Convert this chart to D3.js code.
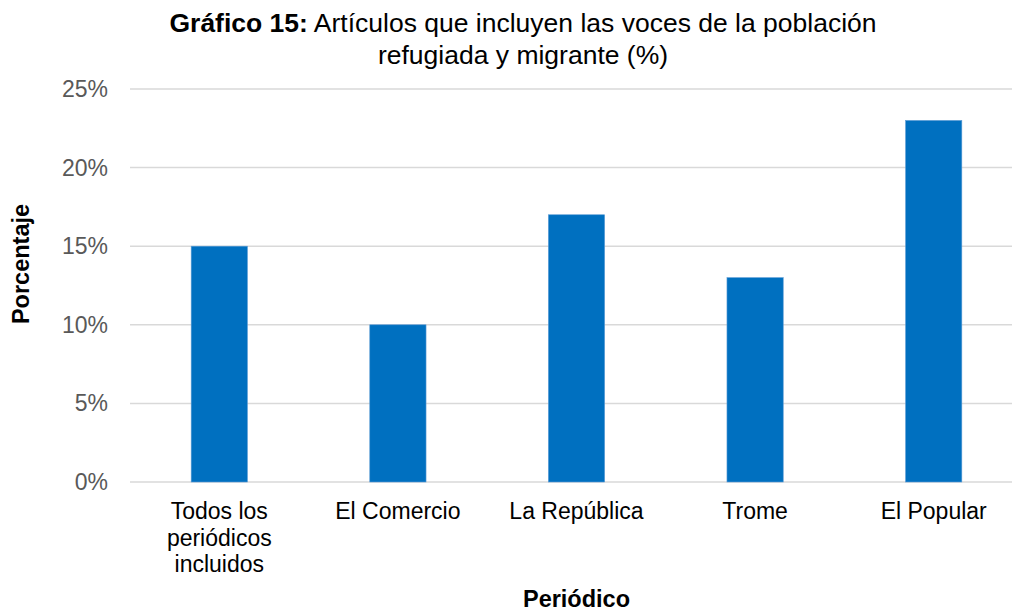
<!DOCTYPE html>
<html>
<head>
<meta charset="utf-8">
<script src="https://cdn.jsdelivr.net/npm/d3@7"></script>
<style>
  body { margin: 0; background: #fff; }
  svg { font-family: "Liberation Sans", Arial, sans-serif; display: block; }
</style>
</head>
<body>
<div id="chart"></div>
<script>
// ---- data -----------------------
var periodicos = [["Todos los", "periódicos", "incluidos"], ["El Comercio"], ["La República"], ["Trome"], ["El Popular"]];
var valores = [15, 10, 17, 13, 23];
var ticks = [0, 5, 10, 15, 20, 25];

var W = 1012, H = 615;
var plotLeft = 130, plotRight = 1023, plotTop = 89, plotBottom = 482;

var svg = d3.select("#chart").append("svg")
    .attr("width", W)
    .attr("height", H);

var keys = periodicos.map(function (d) { return d.join(" "); });

var x = d3.scaleBand()
    .domain(keys)
    .range([plotLeft, plotRight])
    .paddingInner(0.685)
    .paddingOuter(0.3425);

var y = d3.scaleLinear()
    .domain([0, 25])
    .range([plotBottom, plotTop]);

// gridlines
svg.append("g")
    .selectAll("line")
    .data(ticks)
    .enter().append("line")
    .attr("x1", plotLeft)
    .attr("x2", W)
    .attr("y1", function (d) { return y(d); })
    .attr("y2", function (d) { return y(d); })
    .style("stroke", "#d9d9d9")
    .style("stroke-width", 1.5);

// y labels
svg.append("g")
    .selectAll("text")
    .data(ticks)
    .enter().append("text")
    .attr("x", 108)
    .attr("y", function (d) { return y(d); })
    .attr("dy", "0.35em")
    .attr("text-anchor", "end")
    .style("font-size", "23px")
    .style("fill", "#595959")
    .text(function (d) { return d + "%"; });

// bars
svg.append("g")
    .selectAll("rect")
    .data(valores)
    .enter().append("rect")
    .attr("x", function (d, i) { return x(keys[i]); })
    .attr("y", function (d) { return y(d); })
    .attr("width", x.bandwidth())
    .attr("height", function (d) { return y(0) - y(d); })
    .style("fill", "#0070c0")
    .style("stroke", "#5b9bd5")
    .style("stroke-width", 0.6);

// x labels
var lab = svg.append("g")
    .selectAll("text")
    .data(periodicos)
    .enter().append("text")
    .attr("text-anchor", "middle")
    .style("font-size", "23px")
    .style("fill", "#000");

lab.each(function (d, i) {
    var t = d3.select(this);
    d.forEach(function (line, j) {
        t.append("tspan")
            .attr("x", x(keys[i]) + x.bandwidth() / 2)
            .attr("y", 519 + j * 26.5)
            .text(line);
    });
});

// axis titles
svg.append("text")
    .attr("x", (plotLeft + plotRight) / 2)
    .attr("y", 607)
    .attr("text-anchor", "middle")
    .style("font-size", "23.5px")
    .style("font-weight", "bold")
    .text("Periódico");

svg.append("text")
    .attr("transform", "translate(29,264) rotate(-90)")
    .attr("text-anchor", "middle")
    .style("font-size", "23.5px")
    .style("font-weight", "bold")
    .text("Porcentaje");

// title
var title = svg.append("text")
    .attr("text-anchor", "middle")
    .style("font-size", "26.5px");
title.append("tspan")
    .attr("x", 523)
    .attr("y", 32)
    .style("font-weight", "bold")
    .text("Gráfico 15:");
title.append("tspan")
    .text(" Artículos que incluyen las voces de la población");
title.append("tspan")
    .attr("x", 523)
    .attr("y", 64)
    .text("refugiada y migrante (%)");
</script>
</body>
</html>
